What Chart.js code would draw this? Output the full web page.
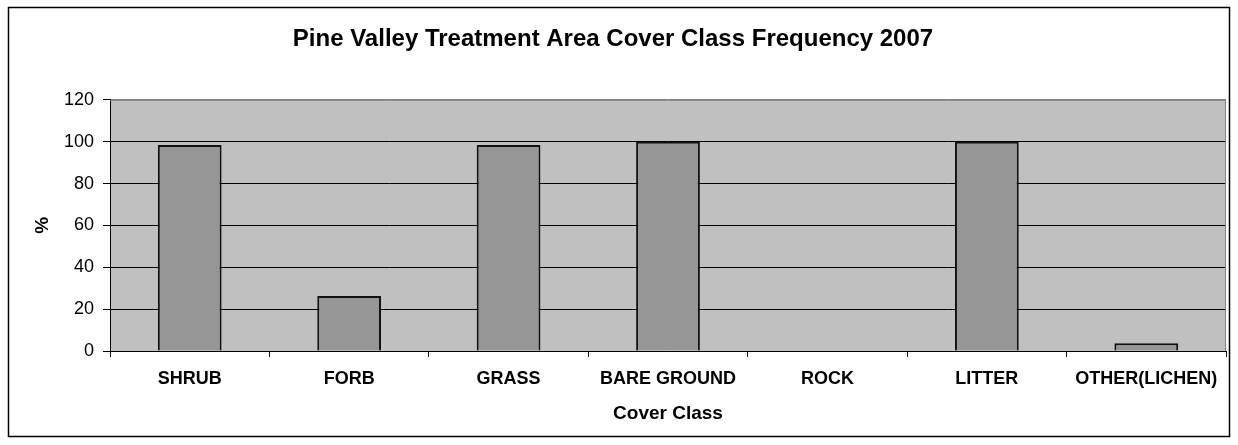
<!DOCTYPE html>
<html>
<head>
<meta charset="utf-8">
<script src="https://cdn.jsdelivr.net/npm/chart.js@4"></script>
<style>
  body { margin: 0; background: #fff; }
</style>
</head>
<body>
<canvas id="coverChart" width="1238" height="445"></canvas>
<script>
// cover classes along the bottom
const categories = ['SHRUB', 'FORB', 'GRASS', 'BARE GROUND', 'ROCK', 'LITTER', 'OTHER(LICHEN)']
// frequency in percent
const frequency = [98.4, 26.3, 98.4, 100, 0, 100, 3.7]
// y axis ticks
const yTicks = [0, 20, 40, 60, 80, 100, 120]

const FONT = "'Liberation Sans', Arial, sans-serif"

// grey plot background, grey top/right edge and the outer frame
const framePlugin = {
  id: 'frame',
  beforeDraw: (chart) => {
    const { ctx, chartArea: a } = chart
    ctx.save()
    ctx.fillStyle = '#C0C0C0'
    ctx.fillRect(a.left, a.top, a.right - a.left, a.bottom - a.top)
    ctx.restore()
  },
  afterDraw: (chart) => {
    const { ctx, chartArea: a } = chart
    ctx.save()
    ctx.strokeStyle = '#808080'
    ctx.lineWidth = 1
    ctx.beginPath()
    ctx.moveTo(a.left, a.top + 0.5)
    ctx.lineTo(a.right - 0.5, a.top + 0.5)
    ctx.lineTo(a.right - 0.5, a.bottom)
    ctx.stroke()
    ctx.strokeStyle = '#000'
    ctx.lineWidth = 1.5
    ctx.strokeRect(8.5, 7.5, 1221, 429)
    ctx.restore()
  }
}

const ctx = document.getElementById('coverChart')
new Chart(ctx, {
  type: 'bar',
  data: {
    labels: categories,
    datasets: [{
      label: 'Frequency',
      data: frequency,
      backgroundColor: '#969696',
      borderColor: '#111',
      borderWidth: 2,
      categoryPercentage: 1,
      barPercentage: 0.4,
    }]
  },
  options: {
    responsive: false,
    animation: false,
    layout: { padding: { left: 0, right: 12, top: 0, bottom: 0 } },
    plugins: {
      legend: { display: false },
      tooltip: { enabled: false },
      title: {
        display: true,
        text: 'Pine Valley Treatment Area Cover Class Frequency 2007',
        color: '#000',
        font: { family: FONT, size: 24, weight: 'bold' },
        padding: { top: 25, bottom: 46 },
      },
    },
    scales: {
      x: {
        afterFit: (scale) => { scale.height = 94 },
        grid: {
          offset: true,
          drawOnChartArea: false,
          drawTicks: true,
          tickLength: 6,
          color: '#000',
        },
        border: { color: '#000', width: 1 },
        ticks: {
          color: '#000',
          padding: 11,
          maxRotation: 0,
          autoSkip: false,
          font: { family: FONT, size: 18, weight: 'bold' },
        },
        title: {
          display: true,
          text: 'Cover Class',
          color: '#000',
          font: { family: FONT, size: 19, weight: 'bold' },
          padding: 20,
        },
      },
      y: {
        min: 0,
        max: 120,
        afterFit: (scale) => { scale.width = 110 },
        afterBuildTicks: (scale) => { scale.ticks = yTicks.map(v => ({ value: v })) },
        grid: {
          color: (c) => c.tick && c.tick.value === 120 ? '#808080' : '#000',
          tickColor: '#000',
          tickLength: 7,
        },
        border: { color: '#000', width: 1 },
        ticks: {
          color: '#000',
          padding: 9,
          font: { family: FONT, size: 18 },
        },
        title: {
          display: true,
          text: '%',
          color: '#000',
          font: { family: FONT, size: 19, weight: 'bold' },
          padding: 31,
        },
      }
    }
  },
  plugins: [framePlugin]
})
</script>
</body>
</html>
